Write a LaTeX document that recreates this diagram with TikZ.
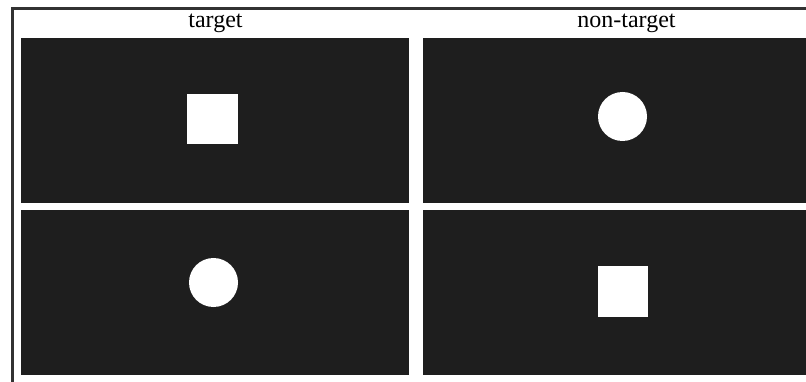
\documentclass[tikz,border=0pt]{standalone}
\usepackage{fontspec}
\setmainfont{Liberation Serif}
\definecolor{panel}{RGB}{30,30,30}
\definecolor{frame}{RGB}{50,50,50}
\tikzset{
  panelbox/.style={fill=panel,draw=none},
  stim/.style={fill=white,draw=none},
  header/.style={font=\fontsize{24}{28}\selectfont,inner sep=0pt,anchor=base},
  frameline/.style={draw=frame,line width=2.2pt}
}
\begin{document}
\begin{tikzpicture}[x=1pt,y=-1pt]
\useasboundingbox (0,0) rectangle (806,382);
\fill[white] (0,0) rectangle (806,382);
% frame
\draw[frameline] (12.5,382) -- (12.5,8.5) -- (806,8.5);
% headers
\node[header] (t1) at (215.5,27.5) {target};
\node[header] (t2) at (626.5,27.5) {non-target};
% panels
\fill[panelbox] (21,38) rectangle (409,203);
\fill[panelbox] (423,38) rectangle (806,203);
\fill[panelbox] (21,210) rectangle (409,375);
\fill[panelbox] (423,210) rectangle (806,375);
% stimuli
\fill[stim] (187,94) rectangle (238,144);
\fill[stim] (622.5,116.5) circle (24.5);
\fill[stim] (213.5,282.5) circle (24.5);
\fill[stim] (598,266) rectangle (648,317);
\end{tikzpicture}
\end{document}
